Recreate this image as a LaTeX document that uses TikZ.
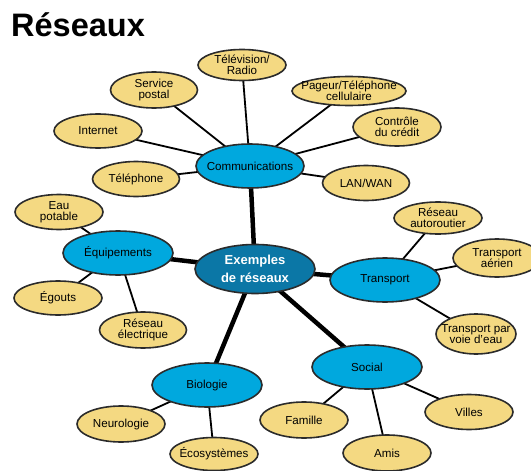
\documentclass[tikz,border=0pt]{standalone}
\usepackage{fontspec}
\setmainfont{Liberation Sans}
\usetikzlibrary{shapes.geometric,backgrounds}
\definecolor{leafyellow}{HTML}{F4D982}
\definecolor{hubblue}{HTML}{00A8DE}
\definecolor{coreblue}{HTML}{0B77A6}
\definecolor{outline}{HTML}{2B2B2B}
\tikzset{
  bubble/.style={ellipse, draw=outline, line width=1.6pt, inner sep=0pt, outer sep=0pt},
  leaf/.style 2 args={bubble, fill=leafyellow, minimum width=#1pt, minimum height=#2pt},
  hub/.style={bubble, fill=hubblue, minimum width=110pt, minimum height=44pt},
  core/.style={bubble, fill=coreblue, minimum width=120pt, minimum height=49pt},
  txt/.style={align=center, inner sep=0pt, font=\fontsize{11.6}{11}\selectfont, text=black},
  coretxt/.style={align=center, inner sep=0pt, font=\fontsize{13}{18}\selectfont\bfseries, text=white},
  thin/.style={line width=1.8pt, black},
  thick/.style={line width=4.5pt, black},
}
\newcommand{\lf}[5]{\node[leaf={#4}{#5}, label={[txt]center:#3}] (#1) at (#2) {};}
\begin{document}
\begin{tikzpicture}[x=1pt, y=-1pt]
\useasboundingbox (0,0) rectangle (531,471);
\node[anchor=base west, inner sep=0pt, font=\fontsize{32.5}{34}\selectfont\bfseries] (title) at (11,37) {Réseaux};
% core and hubs
\node[core, label={[coretxt]center:Exemples\\de réseaux}] (core) at (255,269) {};
\node[hub, minimum width=108pt, label={[txt]center:Communications}] (comm) at (250,166) {};
\node[hub, label={[txt]center:Équipements}] (equip) at (118,253) {};
\node[hub, label={[txt]center:Transport}] (trans) at (385,280) {};
\node[hub, label={[txt]center:Social}] (social) at (367,367) {};
\node[hub, label={[txt]center:Biologie}] (bio) at (207,385) {};
% leaves: communications
\lf{tv}{242,65}{Télévision/\\Radio}{88}{31}
\lf{postal}{154,90}{Service\\postal}{87}{36}
\lf{pager}{349,91}{Pageur/Téléphone\\cellulaire}{114}{29}
\lf{internet}{98,131}{Internet}{88}{34}
\lf{credit}{397,127}{Contrôle\\du crédit}{88}{38}
\lf{phone}{136,179}{Téléphone}{87}{35}
\lf{lan}{366,183}{LAN/WAN}{87}{35}
% equipements
\lf{eau}{59,212}{Eau\\potable}{88}{35}
\lf{egouts}{58,298}{Égouts}{88}{34}
\lf{elec}{143,330}{Réseau\\électrique}{87}{36}
% transport
\lf{route}{438,218}{Réseau\\autoroutier}{88}{32}
\lf{air}{497,258}{Transport\\aérien}{88}{38}
\lf{eauvoie}{476,334}{Transport par\\voie d'eau}{80}{40}
% social
\lf{famille}{304,420}{Famille}{88}{36}
\lf{amis}{387,453}{Amis}{88}{36}
\lf{villes}{469,412}{Villes}{88}{35}
% biologie
\lf{neuro}{121,424}{Neurologie}{88}{36}
\lf{eco}{214,454}{Écosystèmes}{88}{33}
\begin{scope}[on background layer]
\foreach \n in {comm,equip,trans,social,bio} \draw[thick] (core.center) -- (\n.center);
\foreach \n in {tv,postal,pager,internet,credit,phone,lan} \draw[thin] (comm.center) -- (\n.center);
\foreach \n in {eau,egouts,elec} \draw[thin] (equip.center) -- (\n.center);
\foreach \n in {route,air,eauvoie} \draw[thin] (trans.center) -- (\n.center);
\foreach \n in {famille,amis,villes} \draw[thin] (social.center) -- (\n.center);
\foreach \n in {neuro,eco} \draw[thin] (bio.center) -- (\n.center);
\end{scope}
\end{tikzpicture}
\end{document}
